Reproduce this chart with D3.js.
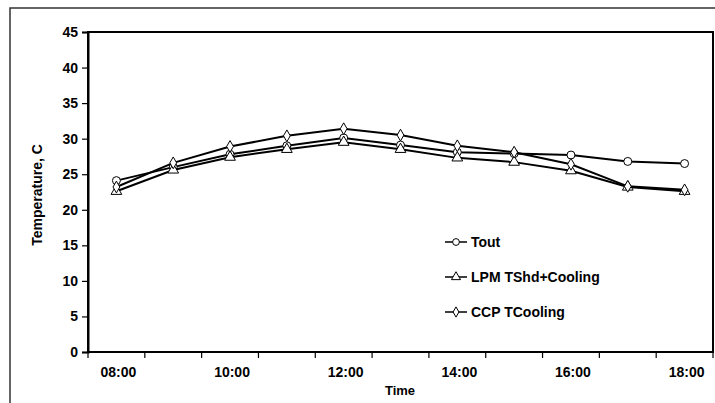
<!DOCTYPE html>
<html>
<head>
<meta charset="utf-8">
<script src="https://cdn.jsdelivr.net/npm/d3@7"></script>
<style>
  body { margin: 0; background: #fff; }
  text { font-family: Arial, "Liberation Sans", sans-serif; font-weight: bold; fill: #000; }
</style>
</head>
<body>
<svg id="chart" width="715" height="403"></svg>
<script>
var times = ["08:00","09:00","10:00","11:00","12:00","13:00","14:00","15:00","16:00","17:00","18:00"];
var tickLabels = ["08:00","10:00","12:00","14:00","16:00","18:00"];
var yTicks = [0,5,10,15,20,25,30,35,40,45];

var tout = [24.1, 26.0, 27.8, 29.0, 30.1, 29.1, 28.1, 27.9, 27.7, 26.8, 26.5];
var lpm  = [22.6, 25.6, 27.4, 28.5, 29.5, 28.5, 27.3, 26.7, 25.5, 23.2, 22.6];
var ccp  = [23.2, 26.6, 28.9, 30.4, 31.4, 30.5, 29.0, 28.1, 26.4, 23.3, 22.8];

var seriesNames = ["Tout", "LPM TShd+Cooling", "CCP TCooling"];
var seriesData = [tout, lpm, ccp];
var seriesShapes = [d3.symbolCircle, d3.symbolTriangle, d3.symbolDiamond];

var svg = d3.select("#chart");

// outer chart frame
svg.append("rect")
    .attr("x", 10).attr("y", 8)
    .attr("width", 720).attr("height", 420)
    .attr("fill", "none")
    .attr("stroke", "#333")
    .attr("stroke-width", 1.5);

var pLeft = 88, pRight = 713, pTop = 32, pBottom = 352;

var x = d3.scaleBand()
          .domain(times)
          .range([pLeft, pRight]);

var y = d3.scaleLinear()
          .domain([0, 45])
          .range([pBottom, pTop]);

// plot border
svg.append("rect")
    .attr("x", pLeft).attr("y", pTop)
    .attr("width", pRight - pLeft).attr("height", pBottom - pTop)
    .attr("fill", "none")
    .attr("stroke", "#000")
    .attr("stroke-width", 2);

// y axis
var yAxis = svg.append("g")
    .attr("transform", "translate(" + pLeft + ",0)")
    .call(d3.axisLeft(y).tickValues(yTicks).tickSize(6).tickPadding(4));
yAxis.select(".domain").attr("stroke-width", 2);
yAxis.selectAll("line").attr("stroke-width", 1.2);
yAxis.selectAll("text")
    .attr("font-size", "14px")
    .attr("font-family", "Arial, 'Liberation Sans', sans-serif")
    .attr("font-weight", "bold");

// x axis: ticks between categories, labels every second category
var bounds = times.map(t => x(t)).concat([pRight]);
svg.append("line")
    .attr("x1", pLeft).attr("x2", pRight)
    .attr("y1", pBottom).attr("y2", pBottom)
    .attr("stroke", "#000").attr("stroke-width", 2);
svg.selectAll(".xtick")
    .data(bounds)
    .enter()
    .append("line")
    .classed("xtick", true)
    .attr("x1", d => d).attr("x2", d => d)
    .attr("y1", pBottom).attr("y2", pBottom + 6)
    .attr("stroke", "#000").attr("stroke-width", 1.2);
svg.selectAll(".xlabel")
    .data(tickLabels)
    .enter()
    .append("text")
    .classed("xlabel", true)
    .attr("x", d => x(d) + x.bandwidth() / 2 + 2)
    .attr("y", 377)
    .attr("font-size", "14px")
    .style("text-anchor", "middle")
    .text(d => d);

svg.append("text")
    .attr("x", 400).attr("y", 395)
    .attr("font-size", "13px")
    .style("text-anchor", "middle")
    .text("Time");

svg.append("text")
    .attr("transform", "translate(42,195) rotate(-90)")
    .attr("font-size", "14px")
    .style("text-anchor", "middle")
    .text("Temperature, C");

// series
var line = d3.line()
    .x((d, i) => x(times[i]) + x.bandwidth() / 2)
    .y(d => y(d));

seriesData.forEach(function(values, s) {
  var g = svg.append("g");
  g.append("path")
      .attr("d", line(values))
      .attr("fill", "none")
      .attr("stroke", "#000")
      .attr("stroke-width", 2);
  g.selectAll("path.mark")
      .data(values)
      .enter()
      .append("path")
      .classed("mark", true)
      .attr("transform", (d, i) => "translate(" + (x(times[i]) + x.bandwidth() / 2) + "," + y(d) + ")")
      .attr("d", d3.symbol().type(seriesShapes[s]).size(s === 2 ? 40 : 50))
      .attr("fill", "#fff")
      .attr("stroke", "#000")
      .attr("stroke-width", 1);
});

// legend
var legend = svg.append("g")
    .attr("transform", "translate(445,242)");
var items = legend.selectAll("g")
    .data(seriesNames)
    .enter()
    .append("g")
    .attr("transform", (d, i) => "translate(0," + (i * 35) + ")");
items.append("line")
    .attr("x1", 0).attr("x2", 22)
    .attr("y1", 0).attr("y2", 0)
    .attr("stroke", "#000").attr("stroke-width", 1.5);
items.append("path")
    .attr("transform", "translate(11,0)")
    .attr("d", (d, i) => d3.symbol().type(seriesShapes[i]).size(i === 2 ? 30 : 36)())
    .attr("fill", "#fff")
    .attr("stroke", "#000")
    .attr("stroke-width", 1);
items.append("text")
    .attr("x", 26).attr("y", 5)
    .attr("font-size", "14px")
    .text(d => d);
</script>
</body>
</html>
